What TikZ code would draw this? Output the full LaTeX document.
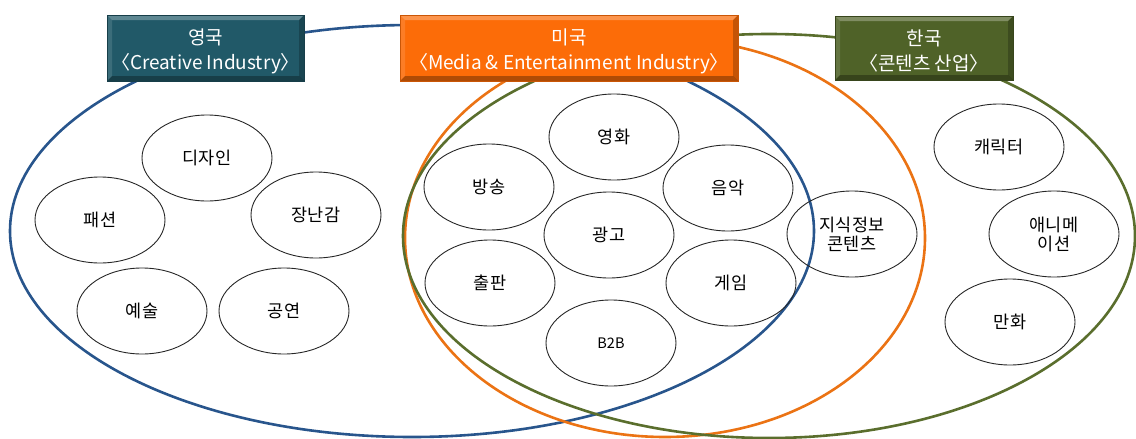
\documentclass[tikz,border=0pt]{standalone}
\usepackage{fontspec}
\setmainfont{Noto Sans CJK KR}
\usetikzlibrary{shapes.geometric}
\definecolor{ukline}{RGB}{40,85,140}
\definecolor{usline}{RGB}{235,115,20}
\definecolor{krline}{RGB}{90,110,45}
\definecolor{ukbox}{RGB}{33,89,104}
\definecolor{usbox}{RGB}{252,108,8}
\definecolor{krbox}{RGB}{79,98,40}
\tikzset{
  big/.style={ellipse, draw, line width=2.6pt, inner sep=0pt},
  item/.style={ellipse, draw=black!85, line width=0.9pt, minimum width=130pt, minimum height=86pt, inner sep=0pt,
    font=\fontsize{17.5}{19}\selectfont, align=center},
  header/.style={rectangle, line width=1pt, minimum height=66pt, inner sep=0pt, bevel},
  headtext/.style={inner sep=0pt, text=white, font=\fontsize{19}{25}\selectfont, align=center},
  bevel/.style={path picture={
    \fill[white, opacity=0.28] (path picture bounding box.north west) -- (path picture bounding box.north east)
      -- ([shift={(-5pt,-5pt)}]path picture bounding box.north east) -- ([shift={(5pt,-5pt)}]path picture bounding box.north west) -- cycle;
    \fill[white, opacity=0.12] (path picture bounding box.north west) -- ([shift={(5pt,-5pt)}]path picture bounding box.north west)
      -- ([shift={(5pt,5pt)}]path picture bounding box.south west) -- (path picture bounding box.south west) -- cycle;
    \fill[black, opacity=0.3] (path picture bounding box.south west) -- (path picture bounding box.south east)
      -- ([shift={(-5pt,5pt)}]path picture bounding box.south east) -- ([shift={(5pt,5pt)}]path picture bounding box.south west) -- cycle;
    \fill[black, opacity=0.22] (path picture bounding box.north east) -- ([shift={(-5pt,-5pt)}]path picture bounding box.north east)
      -- ([shift={(-5pt,5pt)}]path picture bounding box.south east) -- (path picture bounding box.south east) -- cycle;
  }},
}
\begin{document}
\begin{tikzpicture}[x=1pt,y=-1pt]
\useasboundingbox (0,0) rectangle (1136,439);
% big sets
\node[big, draw=ukline, minimum width=804pt, minimum height=412pt] (uk) at (412,231) {};
\node[big, draw=usline, minimum width=520pt, minimum height=398pt] (us) at (665,238) {};
\node[big, draw=krline, minimum width=732pt, minimum height=404pt] (kr) at (769,236) {};
% headers
\node[header, fill=ukbox, draw=ukbox!70!black, minimum width=197pt] (hu) at (205.5,48) {};
\node[headtext] (hut) at ([yshift=-3pt]hu.center) {영국\\〈Creative Industry〉};
\node[header, fill=usbox, draw=usbox!80!black, minimum width=338pt] (hs) at (569,48) {};
\node[headtext] (hst) at ([yshift=-3pt]hs.center) {미국\\〈Media \& Entertainment Industry〉};
\node[header, fill=krbox, draw=krbox!70!black, minimum width=178pt, minimum height=64pt] (hk) at (924,48) {};
\node[headtext] (hkt) at ([yshift=-3pt]hk.center) {한국\\〈콘텐츠 산업〉};
% UK items
\node[item] (design) at (207,158) {디자인};
\node[item] (fashion) at (100,220) {패션};
\node[item] (toy) at (316,215) {장난감};
\node[item] (art) at (142,311) {예술};
\node[item] (perf) at (284,311) {공연};
% US items
\node[item] (movie) at (614,137) {영화};
\node[item] (broad) at (489,187) {방송};
\node[item] (music) at (728,188) {음악};
\node[item] (adv) at (609,235) {광고};
\node[item] (pub) at (490,283) {출판};
\node[item] (game) at (731,283) {게임};
\node[item, font=\fontsize{14.5}{17}\selectfont] (b2b) at (611,343) {B2B};
% KR items
\node[item] (know) at (852,234) {지식정보\\콘텐츠};
\node[item] (char) at (999,147) {캐릭터};
\node[item] (anim) at (1054,234) {애니메\\이션};
\node[item] (comic) at (1010,322) {만화};
\end{tikzpicture}
\end{document}
